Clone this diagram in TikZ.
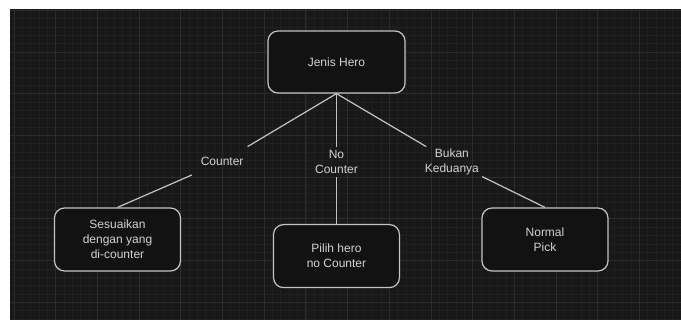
\documentclass[tikz,border=0pt]{standalone}
\usepackage{fontspec}
\setmainfont{Liberation Sans}
\usetikzlibrary{positioning}
\definecolor{canvascolor}{HTML}{181818}
\definecolor{minorcolor}{HTML}{202020}
\definecolor{majorcolor}{HTML}{2c2c2c}
\definecolor{boxcolor}{HTML}{121212}
\definecolor{edgecolor}{HTML}{c4c4c4}
\definecolor{textcolor}{HTML}{d2d2d2}
\tikzset{
    decision/.style={
        shape=rectangle,
        draw=edgecolor,
        fill=boxcolor,
        text=textcolor,
        align=center,
        line width=1.2pt,
        rounded corners=10pt,
        minimum width=126pt,
        minimum height=63pt,
        font=\fontsize{12}{15}\selectfont
    },
    choice/.style={
        shape=rectangle,
        text=textcolor,
        align=center,
        inner sep=1pt,
        minimum width=60pt,
        minimum height=30pt,
        font=\fontsize{12}{15.5}\selectfont
    },
    link/.style={
        draw=edgecolor,
        line width=1.2pt
    }
}

\begin{document}
\begin{tikzpicture}[x=1pt, y=-1pt]
    \useasboundingbox (0,0) rectangle (681,320);
    \fill[canvascolor] (10,9) rectangle (681,320);

    \begin{scope} % grid
        \clip (10,9) rectangle (681,320);
        \foreach \i in {0,...,82}
            \draw[minorcolor, line width=0.6pt] ({5.56+8.34*\i},9) -- ++(0,311);
        \foreach \j in {0,...,38}
            \draw[minorcolor, line width=0.6pt] (10,{1.96+8.34*\j}) -- ++(671,0);
        \foreach \i in {0,...,16}
            \draw[majorcolor, line width=0.8pt] ({13.9+41.7*\i},9) -- ++(0,311);
        \foreach \j in {0,...,7}
            \draw[majorcolor, line width=0.8pt] (10,{10.3+41.7*\j}) -- ++(671,0);
    \end{scope}

    \node[decision, minimum width=137pt, minimum height=62pt] (hero) at (336.5,62) {Jenis Hero};

    \node[choice, below=53pt of hero] (nocounter) {No\\Counter};
    \node[choice, left=54pt of nocounter] (counter) {Counter};
    \node[choice, right=55pt of nocounter] (bukan) {Bukan\\Keduanya};

    \node[decision] (sesuaikan) at (117.5,239.5) {Sesuaikan\\dengan yang\\di-counter};
    \node[decision, below=47pt of nocounter] (pilih) {Pilih hero\\no Counter};
    \node[decision] (normal) at (545,239.5) {Normal\\Pick};

    \begin{scope} % links
        \draw[link] (hero.south) to (counter);
        \draw[link] (counter) to (sesuaikan.north);

        \draw[link] (hero.south) to (nocounter);
        \draw[link] (nocounter) to (pilih.north);

        \draw[link] (hero.south) to (bukan);
        \draw[link] (bukan) to (normal.north);
    \end{scope}
\end{tikzpicture}
\end{document}
